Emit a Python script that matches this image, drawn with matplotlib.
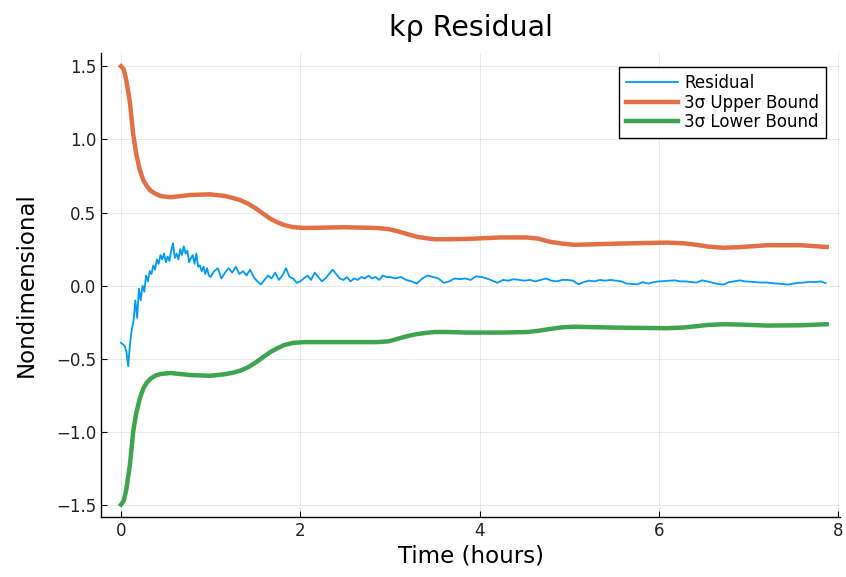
import numpy as np
import matplotlib.pyplot as plt

# residual, sampled in three stretches (start, step, values)
res_early = [-0.39, -0.40, -0.41, -0.45, -0.55, -0.40, -0.30, -0.24, -0.10, -0.22,
             -0.02, -0.10, 0.00, -0.04, 0.07, 0.03, 0.10, 0.08, 0.14, 0.11,
             0.18, 0.15, 0.21, 0.18, 0.22, 0.16, 0.20, 0.17, 0.24, 0.29,
             0.19, 0.22, 0.18, 0.25, 0.21, 0.27, 0.22, 0.24, 0.16, 0.19,
             0.21, 0.15, 0.22, 0.13, 0.14, 0.10, 0.13, 0.08, 0.12, 0.07]
res_mid = [0.06, 0.10, 0.12, 0.05, 0.09, 0.12, 0.09, 0.13, 0.08, 0.10,
           0.07, 0.11, 0.06, 0.03, 0.01, 0.04, 0.07, 0.05, 0.09, 0.04,
           0.07, 0.12, 0.06, 0.05, 0.02, 0.03, 0.05, 0.07, 0.04, 0.09,
           0.06, 0.03, 0.05, 0.08, 0.11, 0.08, 0.05, 0.04, 0.06, 0.03,
           0.05, 0.04, 0.06, 0.05, 0.07, 0.05, 0.06, 0.04, 0.07, 0.06]
res_late = [0.06, 0.05, 0.06, 0.04, 0.03, 0.015, 0.05, 0.07, 0.06, 0.05,
            0.02, 0.03, 0.05, 0.045, 0.05, 0.04, 0.065, 0.06, 0.05, 0.035,
            0.02, 0.04, 0.035, 0.045, 0.04, 0.035, 0.04, 0.03, 0.04, 0.05,
            0.035, 0.03, 0.04, 0.04, 0.035, 0.01, 0.025, 0.035, 0.03, 0.04,
            0.035, 0.04, 0.035, 0.03, 0.015, 0.012, 0.01, 0.025, 0.015, 0.025,
            0.03, 0.032, 0.035, 0.037, 0.03, 0.03, 0.025, 0.022, 0.037, 0.03,
            0.02, 0.012, 0.008, 0.025, 0.03, 0.037, 0.03, 0.027, 0.025, 0.022,
            0.022, 0.018, 0.015, 0.012, 0.008, 0.015, 0.02, 0.022, 0.027, 0.025,
            0.03, 0.018]

bound_t = [0, 0.03, 0.06, 0.1, 0.135, 0.17, 0.21, 0.25, 0.29, 0.33, 0.38, 0.44,
           0.55, 0.77, 0.99, 1.15, 1.25, 1.33, 1.42, 1.50, 1.58, 1.66, 1.74, 1.82,
           1.92, 2.05, 2.5, 2.85, 2.98, 3.1, 3.2, 3.3, 3.4, 3.5, 3.65, 3.86, 4.23,
           4.53, 4.65, 4.79, 4.92, 5.05, 5.2, 5.53, 6.09, 6.28, 6.42, 6.54, 6.72,
           6.9, 7.21, 7.58, 7.87]
upper = [1.5, 1.48, 1.40, 1.25, 1.04, 0.90, 0.79, 0.72, 0.68, 0.65, 0.63, 0.613,
         0.605, 0.62, 0.625, 0.614, 0.60, 0.585, 0.56, 0.53, 0.495, 0.46, 0.435, 0.415,
         0.40, 0.395, 0.40, 0.395, 0.388, 0.37, 0.352, 0.335, 0.325, 0.318, 0.318, 0.32, 0.33,
         0.33, 0.322, 0.30, 0.288, 0.28, 0.282, 0.288, 0.295, 0.29, 0.28, 0.268, 0.26,
         0.264, 0.277, 0.277, 0.265]
lower = [-1.495, -1.47, -1.39, -1.22, -1.00, -0.87, -0.77, -0.70, -0.66, -0.635, -0.615, -0.603,
         -0.596, -0.61, -0.615, -0.605, -0.594, -0.58, -0.556, -0.525, -0.49, -0.455, -0.428, -0.405,
         -0.39, -0.385, -0.385, -0.385, -0.38, -0.36, -0.343, -0.33, -0.322, -0.316, -0.316, -0.32, -0.32,
         -0.316, -0.308, -0.295, -0.284, -0.28, -0.282, -0.286, -0.29, -0.285, -0.276, -0.268, -0.263,
         -0.265, -0.272, -0.27, -0.263]

t_res = np.concatenate([0.0 + 0.02 * np.arange(len(res_early)),
                        1.0 + 0.04 * np.arange(len(res_mid)),
                        3.0 + 0.06 * np.arange(len(res_late))])
res = np.concatenate([res_early, res_mid, res_late])

fig = plt.figure(figsize=(8.46, 5.77), dpi=100)
ax = fig.add_axes([0.1194, 0.104, 0.8736, 0.804])

ax.plot(t_res, res, color="#009AFA", lw=1.3, label="Residual")
ax.plot(bound_t, upper, color="#E36F47", lw=3.2, label="3σ Upper Bound")
ax.plot(bound_t, lower, color="#3EA44E", lw=3.2, label="3σ Lower Bound")

ax.set_xlim(-0.223, 8.02)
ax.set_ylim(-1.58, 1.59)
ax.set_xticks([0, 2, 4, 6, 8])
ax.set_yticks([-1.5, -1.0, -0.5, 0.0, 0.5, 1.0, 1.5])
ax.yaxis.set_major_formatter(plt.FuncFormatter(lambda v, _: f"{v:.1f}".replace("-", "\u2212")))
ax.grid(True, color="k", alpha=0.1, lw=0.6)
for s in ["top", "right"]:
    ax.spines[s].set_visible(False)
for s in ["left", "bottom"]:
    ax.spines[s].set_linewidth(1.0)
ax.tick_params(direction="in", length=4, labelsize=12, colors="k", labelcolor="#222222")

ax.set_title("kρ Residual", fontsize=20.5, pad=12)
ax.set_xlabel("Time (hours)", fontsize=16.5, labelpad=3)
ax.set_ylabel("Nondimensional", fontsize=16.5, labelpad=13)

leg = ax.legend(loc="upper right", fontsize=12, fancybox=False, framealpha=1,
                edgecolor="k", borderaxespad=0.85, handlelength=3.1,
                handletextpad=0.4, labelspacing=0.1, borderpad=0.4)
leg.get_frame().set_linewidth(1.0)

fig.savefig("out.png", dpi=100)
